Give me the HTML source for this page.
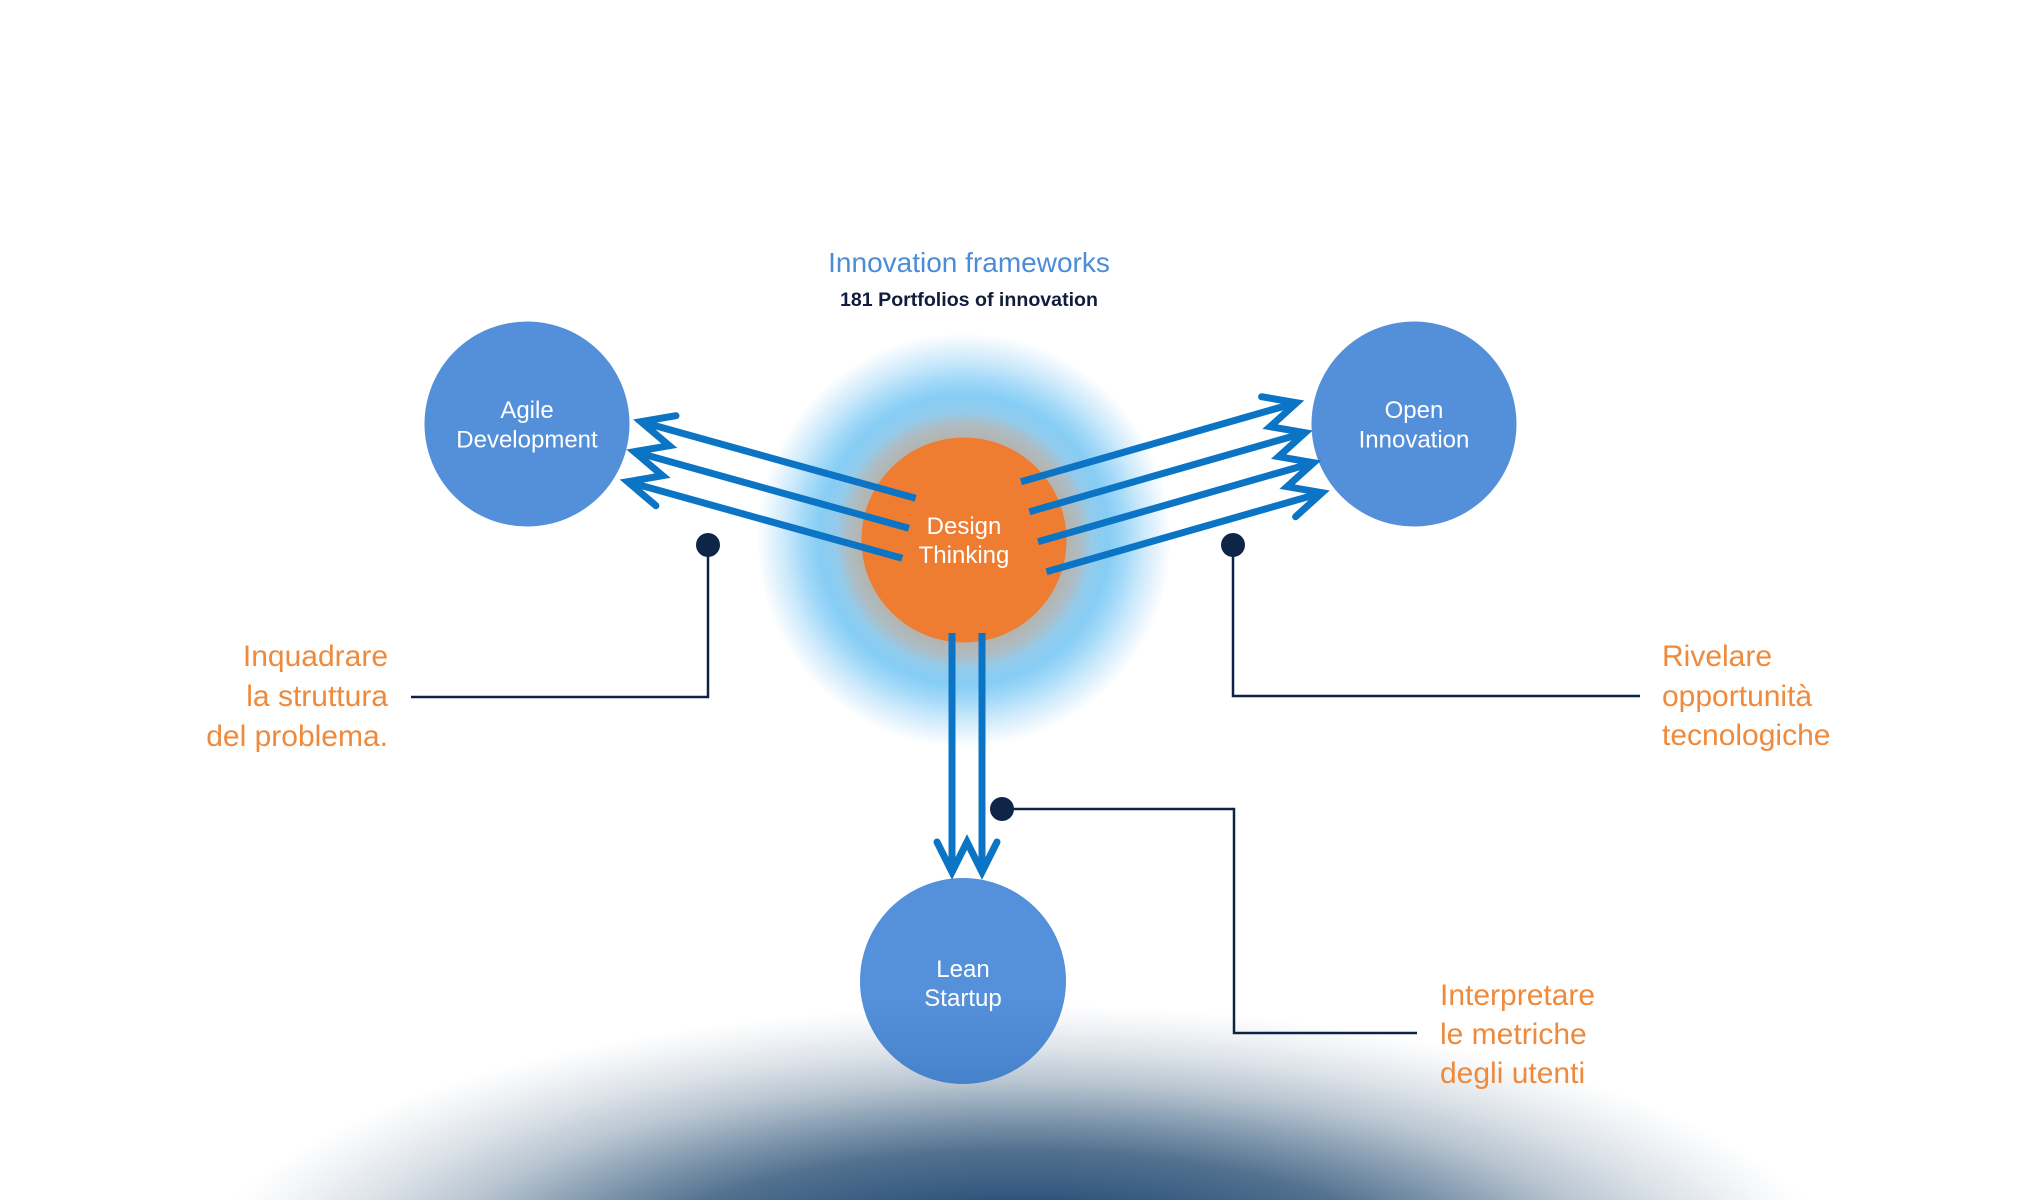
<!DOCTYPE html>
<html>
<head>
<meta charset="utf-8">
<style>
  html, body { margin: 0; padding: 0; background: #ffffff; width: 2040px; height: 1200px; overflow: hidden; }
  svg { display: block; overflow: hidden; }
  text { font-family: "Liberation Sans", "DejaVu Sans", sans-serif; }
</style>
</head>
<body>
<svg width="2040" height="1200" viewBox="0 0 2040 1200" xmlns="http://www.w3.org/2000/svg">
  <defs>
    <radialGradient id="horizon" cx="1020" cy="1290" r="830" gradientUnits="userSpaceOnUse"
      gradientTransform="translate(1020 1290) scale(1 0.3434) translate(-1020 -1290)">
      <stop offset="0" stop-color="#22466e"/>
      <stop offset="0.316" stop-color="#2f547c"/>
      <stop offset="0.375" stop-color="#3c5f84"/>
      <stop offset="0.49" stop-color="#52718f"/>
      <stop offset="0.607" stop-color="#8299af"/>
      <stop offset="0.726" stop-color="#b7c4d0"/>
      <stop offset="0.842" stop-color="#dce2e8"/>
      <stop offset="0.92" stop-color="#eff2f5"/>
      <stop offset="1" stop-color="#ffffff"/>
    </radialGradient>
    <radialGradient id="glow" cx="964" cy="540" r="207" gradientUnits="userSpaceOnUse">
      <stop offset="0" stop-color="#ee7d32"/>
      <stop offset="0.48" stop-color="#b6b2aa"/>
      <stop offset="0.56" stop-color="#aebcc3"/>
      <stop offset="0.62" stop-color="#93cbeb"/>
      <stop offset="0.70" stop-color="#86cdf5"/>
      <stop offset="0.78" stop-color="#a3d9f8"/>
      <stop offset="0.86" stop-color="#c8e8fb"/>
      <stop offset="0.93" stop-color="#e4f3fd"/>
      <stop offset="1" stop-color="#ffffff"/>
    </radialGradient>
    <linearGradient id="leanFill" x1="0" y1="0" x2="0" y2="1">
      <stop offset="0" stop-color="#5590da"/>
      <stop offset="0.6" stop-color="#5590da"/>
      <stop offset="1" stop-color="#4682cb"/>
    </linearGradient>
  </defs>

  <!-- bottom horizon gradient -->
  <rect x="0" y="1000" width="2040" height="200" fill="url(#horizon)"/>

  <!-- glow -->
  <circle cx="964" cy="540" r="207" fill="url(#glow)"/>

  <!-- circles -->
  <circle cx="964" cy="540" r="102.5" fill="#ee7d32"/>
  <circle cx="527" cy="424" r="102.5" fill="#5490da"/>
  <circle cx="1414" cy="424" r="102.5" fill="#5490da"/>
  <circle cx="963" cy="981" r="103" fill="url(#leanFill)"/>

  <!-- arrows -->
  <g stroke="#0b74c4" stroke-width="7" fill="none">
    <line x1="915.6" y1="498.3" x2="641" y2="421.7"/>
    <line x1="908.9" y1="528.3" x2="634.3" y2="451.7"/>
    <line x1="902.2" y1="558.3" x2="627.6" y2="481.7"/>
    <polyline points="676,415.7 641,421.7 669.3,445.7 634.3,451.7 662.6,475.7 627.6,481.7 655.9,505.7" stroke-linejoin="miter" stroke-miterlimit="10" stroke-linecap="round"/>

    <line x1="1021" y1="481.7" x2="1296.6" y2="402.7"/>
    <line x1="1029.5" y1="511.7" x2="1305.1" y2="432.7"/>
    <line x1="1038" y1="541.7" x2="1313.6" y2="462.7"/>
    <line x1="1046.5" y1="571.7" x2="1322.1" y2="492.7"/>
    <polyline points="1261.6,396.7 1296.6,402.7 1270.1,426.7 1305.1,432.7 1278.6,456.7 1313.6,462.7 1287.1,486.7 1322.1,492.7 1295.6,516.7" stroke-linejoin="miter" stroke-miterlimit="10" stroke-linecap="round"/>

    <line x1="952" y1="633" x2="952" y2="872"/>
    <line x1="982" y1="633" x2="982" y2="872"/>
    <polyline points="937,842 952,872 967,842 982,872 997,842" stroke-linejoin="miter" stroke-miterlimit="10" stroke-linecap="round"/>
  </g>

  <!-- connectors -->
  <g stroke="#0e2245" stroke-width="2.5" fill="none">
    <polyline points="708,544 708,697 411,697"/>
    <polyline points="1233,544 1233,696 1640,696"/>
    <polyline points="1002,809 1234,809 1234,1033 1417,1033"/>
  </g>
  <g fill="#0e2548">
    <circle cx="708" cy="545" r="12"/>
    <circle cx="1233" cy="545" r="12"/>
    <circle cx="1002" cy="809" r="12"/>
  </g>

  <!-- title -->
  <text x="969" y="272" font-size="28" fill="#4b8cd9" text-anchor="middle">Innovation frameworks</text>
  <text x="969" y="306" font-size="19.6" font-weight="bold" fill="#111d3d" text-anchor="middle">181 Portfolios of innovation</text>

  <!-- circle labels -->
  <g fill="#ffffff" font-size="24" text-anchor="middle">
    <text x="964" y="534">Design</text>
    <text x="964" y="563">Thinking</text>
    <text x="527" y="418">Agile</text>
    <text x="527" y="447.5">Development</text>
    <text x="1414" y="418">Open</text>
    <text x="1414" y="447.5">Innovation</text>
    <text x="963" y="977">Lean</text>
    <text x="963" y="1006">Startup</text>
  </g>

  <!-- orange labels -->
  <g fill="#ef8a3c" font-size="30">
    <text x="388" y="666" text-anchor="end">Inquadrare</text>
    <text x="388" y="706" text-anchor="end">la struttura</text>
    <text x="388" y="746" text-anchor="end">del problema.</text>

    <text x="1662" y="666">Rivelare</text>
    <text x="1662" y="706">opportunità</text>
    <text x="1662" y="745">tecnologiche</text>

    <text x="1440" y="1005">Interpretare</text>
    <text x="1440" y="1044">le metriche</text>
    <text x="1440" y="1083">degli utenti</text>
  </g>
</svg>
</body>
</html>
